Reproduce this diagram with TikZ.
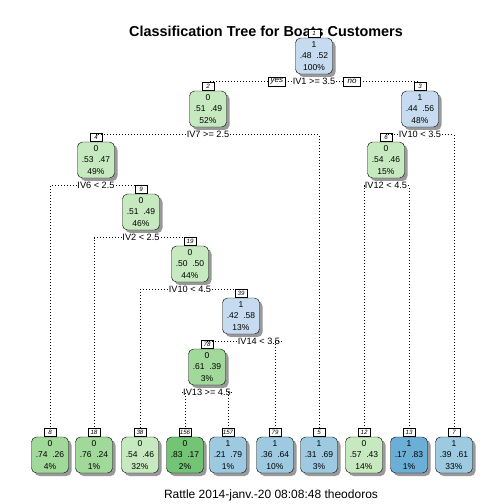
\documentclass[tikz,border=0pt]{standalone}
\usepackage{fontspec}
\setmainfont{Liberation Sans}
\usetikzlibrary{positioning,shadows}
\definecolor{gpale}{HTML}{C7E9C0}
\definecolor{gmid}{HTML}{A1D99B}
\definecolor{gdark}{HTML}{74C476}
\definecolor{bpale}{HTML}{C6DBEF}
\definecolor{bmid}{HTML}{9ECAE1}
\definecolor{bdark}{HTML}{6BAED6}
\begin{document}
\begin{tikzpicture}[x = 1pt, y = -1pt,
		tnode/.style = {draw, rounded corners = 5pt, minimum width = 37pt, minimum height = 36pt, inner sep = 0pt, align = center,
			font = \fontsize{8.5}{11.5}\selectfont,
			drop shadow = {shadow xshift = 3pt, shadow yshift = -3pt, fill = black!40, opacity = 1}},
		num/.style = {draw, fill = white, inner sep = 0.5pt, minimum width = 12pt, minimum height = 8pt, font = \fontsize{6.2}{6.5}\selectfont\itshape},
		split/.style = {fill = white, inner sep = 1pt, font = \fontsize{9.2}{9.2}\selectfont},
		yesno/.style = {draw, fill = white, inner sep = 1pt, minimum width = 17pt, minimum height = 9.5pt, font = \fontsize{8}{8}\selectfont\itshape},
		dots/.style = {line width = 0.6pt, dash pattern = on 0.6pt off 2.4pt}]
			\fill[white] (0,0) rectangle (504,504);
			\useasboundingbox (0,0) rectangle (504,504);
			
			\node[font = \fontsize{14.4}{14.4}\selectfont\bfseries] (title) at (266,31) {Classification Tree for Boats Customers};
			\node[font = \fontsize{12}{12}\selectfont] (foot) at (271,495) {Rattle 2014-janv.-20 08:08:48 theodoros};
			
			\node[tnode, fill = bpale] (t1) at (314,56) {1\\.48~~.52\\100\%};
			\node[tnode, fill = gpale] (t2) at (208,109) {0\\.51~~.49\\52\%};
			\node[tnode, fill = bpale] (t3) at (420,109) {1\\.44~~.56\\48\%};
			\node[tnode, fill = gpale] (t4) at (96,160) {0\\.53~~.47\\49\%};
			\node[tnode, fill = gpale] (t6) at (386,160) {0\\.54~~.46\\15\%};
			\node[tnode, fill = gpale] (t9) at (141,212) {0\\.51~~.49\\46\%};
			\node[tnode, fill = gpale] (t19) at (190,264) {0\\.50~~.50\\44\%};
			\node[tnode, fill = bpale] (t39) at (241,316) {1\\.42~~.58\\13\%};
			\node[tnode, fill = gmid] (t78) at (207,367) {0\\.61~~.39\\3\%};
			
			\node[tnode, fill = gmid] (t8) at (50,455) {0\\.74~~.26\\4\%};
			\node[tnode, fill = gmid] (t18) at (94,455) {0\\.76~~.24\\1\%};
			\node[tnode, fill = gpale] (t38) at (140,455) {0\\.54~~.46\\32\%};
			\node[tnode, fill = gdark] (t156) at (185,455) {0\\.83~~.17\\2\%};
			\node[tnode, fill = bmid] (t157) at (228,455) {1\\.21~~.79\\1\%};
			\node[tnode, fill = bmid] (t79) at (275,455) {1\\.36~~.64\\10\%};
			\node[tnode, fill = bmid] (t5) at (319,455) {1\\.31~~.69\\3\%};
			\node[tnode, fill = gpale] (t12) at (364,455) {0\\.57~~.43\\14\%};
			\node[tnode, fill = bdark] (t13) at (409,455) {1\\.17~~.83\\1\%};
			\node[tnode, fill = bmid] (t7) at (454,455) {1\\.39~~.61\\33\%};
			
			\node[num, above = 0pt of t1] (n1) {1};
			\node[num, above = 0pt of t2] (n2) {2};
			\node[num, above = 0pt of t3] (n3) {3};
			\node[num, above = 0pt of t4] (n4) {4};
			\node[num, above = 0pt of t6] (n6) {6};
			\node[num, above = 0pt of t9] (n9) {9};
			\node[num, above = 0pt of t19] (n19) {19};
			\node[num, above = 0pt of t39] (n39) {39};
			\node[num, above = 0pt of t78] (n78) {78};
			\node[num, above = 0pt of t8] (n8) {8};
			\node[num, above = 0pt of t18] (n18) {18};
			\node[num, above = 0pt of t38] (n38) {38};
			\node[num, above = 0pt of t156] (n156) {156};
			\node[num, above = 0pt of t157] (n157) {157};
			\node[num, above = 0pt of t79] (n79) {79};
			\node[num, above = 0pt of t5] (n5) {5};
			\node[num, above = 0pt of t12] (n12) {12};
			\node[num, above = 0pt of t13] (n13) {13};
			\node[num, above = 0pt of t7] (n7) {7};
			
			\node[split, below = 3pt of t1] (s1) {IV1 >= 3.5};
			\node[split, below = 3pt of t2] (s2) {IV7 >= 2.5};
			\node[split, below = 3pt of t3] (s3) {IV10 < 3.5};
			\node[split, below = 3pt of t4] (s4) {IV6 < 2.5};
			\node[split, below = 3pt of t6] (s6) {IV12 < 4.5};
			\node[split, below = 3pt of t9] (s9) {IV2 < 2.5};
			\node[split, below = 3pt of t19] (s19) {IV10 < 4.5};
			\node[split, below = 3pt of t39, xshift = 18pt] (s39) {IV14 < 3.5};
			\node[split, below = 3pt of t78] (s78) {IV13 >= 4.5};
			
			\draw[dots] (s1.west) -| (n2.north);
			\draw[dots] (s1.east) -| (n3.north);
			\draw[dots] (s2.west) -| (n4.north);
			\draw[dots] (s2.east) -| (n5.north);
			\draw[dots] (s3.west) -| (n6.north);
			\draw[dots] (s3.east) -| (n7.north);
			\draw[dots] (s4.west) -| (n8.north);
			\draw[dots] (s4.east) -| (n9.north);
			\draw[dots] (s6.west) -| (n12.north);
			\draw[dots] (s6.east) -| (n13.north);
			\draw[dots] (s9.west) -| (n18.north);
			\draw[dots] (s9.east) -| (n19.north);
			\draw[dots] (s19.west) -| (n38.north);
			\draw[dots] (s19.east) -| (n39.north);
			\draw[dots] (s39.west) -| (n78.north);
			\draw[dots] (s39.east) -| (n79.north);
			\draw[dots] (s78.west) -| (n156.north);
			\draw[dots] (s78.east) -| (n157.north);
			
			\node[yesno, left = 6pt of s1] (yes) {yes};
			\node[yesno, right = 7pt of s1] (no) {no};
		\end{tikzpicture}
\end{document}
